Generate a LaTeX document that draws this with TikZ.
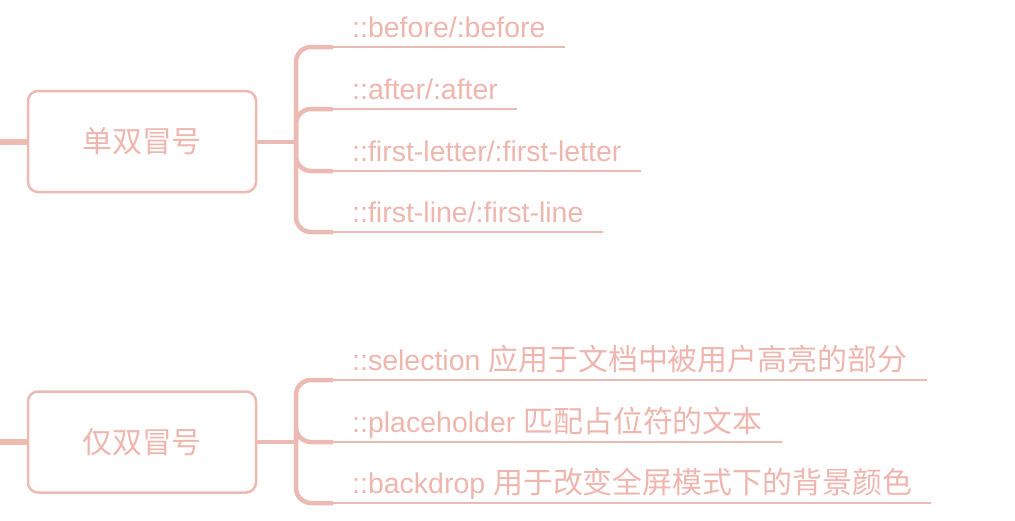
\documentclass[tikz,border=0pt]{standalone}
\usepackage{fontspec}
\setmainfont{Liberation Sans}
\newfontfamily\cjk[Scale=1.05]{Noto Sans CJK SC}
\definecolor{lnc}{RGB}{235,186,178}
\definecolor{txc}{RGB}{238,182,174}
\begin{document}
\begin{tikzpicture}[x=1pt,y=-1pt,
  topic/.style={draw=lnc, line width=2.5pt, rounded corners=10pt, minimum width=228pt, minimum height=101pt,
    text=txc, font=\fontsize{28.5}{34}\selectfont, inner sep=0pt},
  leaf/.style={anchor=south west, inner xsep=19pt, inner ysep=9pt, text depth=0pt, text=txc,
    font=\fontsize{28.5}{34}\selectfont},
  stub/.style={draw=lnc, line width=6pt},
  link/.style={draw=lnc, line width=4pt},
  branch/.style={draw=lnc, line width=4.5pt, rounded corners=15pt},
  uline/.style={draw=lnc, line width=2.5pt},
]
\useasboundingbox (0,0) rectangle (1015,520);

% group 1
\coordinate (s1) at (0,141.5);
\node[topic] (t1) at (142,141.5) {\cjk 单双冒号};
\coordinate (h1) at (296,141.5);
\draw[stub] (s1) -- (t1.west);
\draw[link] (t1.east) -- (h1);

\node[leaf] (a1) at (333,47) {::before/:before};
\node[leaf] (a2) at (333,109) {::after/:after};
\node[leaf] (a3) at (333,171) {::first-letter/:first-letter};
\node[leaf] (a4) at (333,232) {::first-line/:first-line};
\foreach \n in {a1,a2,a3,a4}{
  \draw[branch] (h1) |- (\n.south west);
  \draw[uline] (\n.south west) -- (\n.south east);
}

% group 2
\coordinate (s2) at (0,442);
\node[topic] (t2) at (142,442) {\cjk 仅双冒号};
\coordinate (h2) at (296,442);
\draw[stub] (s2) -- (t2.west);
\draw[link] (t2.east) -- (h2);

\node[leaf] (b1) at (333,380) {::selection {\cjk 应用于文档中被用户高亮的部分}};
\node[leaf] (b2) at (333,442) {::placeholder {\cjk 匹配占位符的文本}};
\node[leaf] (b3) at (333,503) {::backdrop {\cjk 用于改变全屏模式下的背景颜色}};
\foreach \n in {b1,b2,b3}{
  \draw[branch] (h2) |- (\n.south west);
  \draw[uline] (\n.south west) -- (\n.south east);
}
\end{tikzpicture}
\end{document}
